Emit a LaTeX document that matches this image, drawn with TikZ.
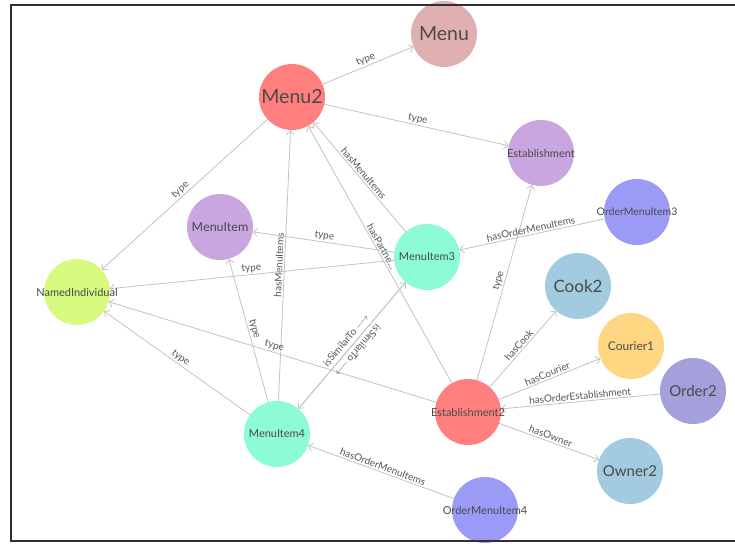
\documentclass[tikz,border=0pt]{standalone}
\usepackage{fontspec}
\setmainfont{Lato}
\usetikzlibrary{arrows.meta}
\pgfdeclarelayer{background}
\pgfsetlayers{background,main}

\definecolor{menupink}{HTML}{E0B0B0}
\definecolor{salmon}{HTML}{FF7F7F}
\definecolor{lavender}{HTML}{C9A6DF}
\definecolor{periwinkle}{HTML}{9B9BF7}
\definecolor{aqua}{HTML}{8EFBD7}
\definecolor{lime}{HTML}{D6FB80}
\definecolor{skyblue}{HTML}{A2CBDF}
\definecolor{apricot}{HTML}{FFD681}
\definecolor{slateviolet}{HTML}{A3A0DB}
\definecolor{nodetext}{HTML}{4A4A4A}
\definecolor{labeltext}{HTML}{555555}
\definecolor{edgegray}{HTML}{C2C2C2}
\definecolor{framegray}{HTML}{303030}

% centred text that may overhang its circle
\newcommand\entname[1]{\makebox[0pt]{#1}}

\begin{document}
\begin{tikzpicture}[x=1pt,y=-1pt,
  entity/.style={circle, minimum size=66pt, inner sep=0pt, text=nodetext},
  bigtext/.style={font=\fontsize{19.5}{19.5}\selectfont},
  midtext/.style={font=\fontsize{15}{15}\selectfont},
  smalltext/.style={font=\fontsize{11}{11}\selectfont},
  rel/.style={draw=edgegray, line width=0.8pt, -{Straight Barb[length=4pt,width=8pt]}},
  lbl/.style={midway, sloped, above, inner sep=1.5pt, text=labeltext,
              font=\fontsize{10}{10}\selectfont}]

\useasboundingbox (0,0) rectangle (735,543);

% resources
\node[entity, fill=menupink, bigtext]  (menu)    at (444,34)  {\entname{Menu}};
\node[entity, fill=salmon, bigtext]    (menu2)   at (292,97)  {\entname{Menu2}};
\node[entity, fill=lavender, smalltext] (est)    at (541,153) {\entname{Establishment}};
\node[entity, fill=periwinkle, font=\fontsize{10.5}{10.5}\selectfont] (omi3) at (637,212) {\entname{OrderMenuItem3}};
\node[entity, fill=lavender, font=\fontsize{12.5}{12.5}\selectfont] (mi) at (220,227) {\entname{MenuItem}};
\node[entity, fill=aqua, smalltext]    (mi3)     at (427,257) {\entname{MenuItem3}};
\node[entity, fill=lime, smalltext]    (ni)      at (77,292)  {\entname{NamedIndividual}};
\node[entity, fill=skyblue, font=\fontsize{17}{17}\selectfont] (cook) at (578,286) {\entname{Cook2}};
\node[entity, fill=apricot, font=\fontsize{12}{12}\selectfont] (courier) at (631,346) {\entname{Courier1}};
\node[entity, fill=slateviolet, midtext] (order) at (693,391) {\entname{Order2}};
\node[entity, fill=salmon, smalltext]  (est2)    at (468,412) {\entname{Establishment2}};
\node[entity, fill=aqua, smalltext]    (mi4)     at (277,434) {\entname{MenuItem4}};
\node[entity, fill=skyblue, midtext]   (owner)   at (630,471) {\entname{Owner2}};
\node[entity, fill=periwinkle, smalltext] (omi4) at (485,510) {\entname{OrderMenuItem4}};

% relations
\begin{pgfonlayer}{background}
\draw[rel] (menu2) -- (menu) node[lbl]{type};
\draw[rel] (menu2) -- (est)  node[lbl]{type};
\draw[rel] (menu2) -- (ni)   node[lbl]{type};
\draw[rel] (mi3) -- (menu2)  node[lbl]{hasMenuItems};
\draw[rel] (est2) -- (menu2) node[lbl, pos=0.52]{hasPartne...};
\draw[rel] (mi4) -- (menu2)  node[lbl]{hasMenuItems};
\draw[rel] (mi3) -- (mi)     node[lbl]{type};
\draw[rel] (mi3) -- (ni)     node[lbl]{type};
\draw[rel] (mi4) -- (mi)     node[lbl]{type};
\draw[rel] (mi4) -- (ni)     node[lbl]{type};
\draw[rel] (est2) -- (ni)    node[lbl]{type};
\draw[rel] (est2) -- (est)   node[lbl]{type};
\draw[rel] (omi3) -- (mi3)   node[lbl]{hasOrderMenuItems};
\draw[rel] (mi4) -- (mi3)    node[lbl, above=2.5pt]{isSimilarTo $\longrightarrow$};
\draw[rel] (mi3) -- (mi4)    node[lbl, above=2.5pt, allow upside down]{isSimilarTo $\longrightarrow$};
\draw[rel] (est2) -- (cook)  node[lbl]{hasCook};
\draw[rel] (est2) -- (courier) node[lbl]{hasCourier};
\draw[rel] (order) -- (est2) node[lbl]{hasOrderEstablishment};
\draw[rel] (est2) -- (owner) node[lbl]{hasOwner};
\draw[rel] (omi4) -- (mi4)   node[lbl]{hasOrderMenuItems};
\end{pgfonlayer}

% panel frame
\draw[framegray, line width=2pt] (735,5) -- (11,5) -- (11,541) -- (735,541);
\end{tikzpicture}
\end{document}
